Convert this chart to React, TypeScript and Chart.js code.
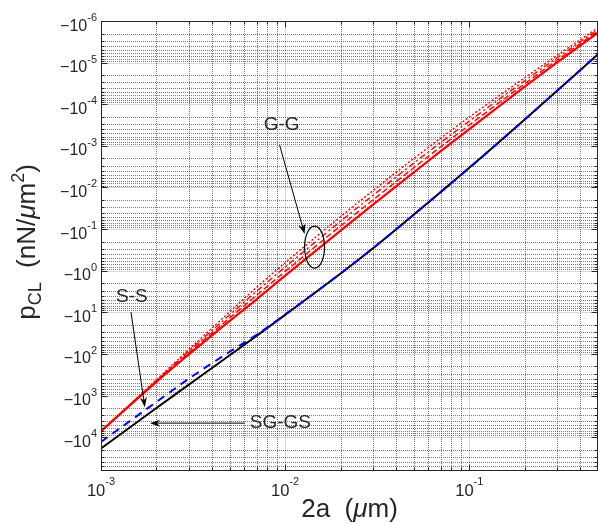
import React, { useEffect, useRef } from "react";
import { Chart, registerables } from "chart.js";

Chart.register(...registerables);

// ---- data (magnitudes of p_CL in nN/um^2; axis labels carry the minus sign) ----
const X_2A = [0.001, 0.002, 0.003, 0.005, 0.007, 0.01, 0.02, 0.03, 0.05, 0.07, 0.1, 0.2, 0.3, 0.5];
const GG_SOLID = [7180, 468, 103, 16.0, 4.87, 1.32, 0.109, 0.0258, 4.33e-3, 1.34e-3, 3.94e-4, 3.79e-5, 9.88e-6, 1.91e-6];
const GG_DASH = [7180, 450, 93.8, 13.6, 3.9, 1.04, 0.0839, 0.0199, 3.35e-3, 1.05e-3, 3.16e-4, 3.21e-5, 8.69e-6, 1.74e-6];
const GG_DASHDOT = [7180, 434, 85.5, 11.5, 3.13, 0.817, 0.0649, 0.0154, 2.59e-3, 8.3e-4, 2.54e-4, 2.72e-5, 7.64e-6, 1.59e-6];
const GG_DOT = [7180, 418, 78.0, 9.73, 2.51, 0.643, 0.0501, 0.0119, 2.0e-3, 6.53e-4, 2.03e-4, 2.31e-5, 6.71e-6, 1.45e-6];
const SS = [1.87e4, 1987, 547, 107.5, 36.7, 11.5, 1.17, 0.288, 0.0448, 0.0128, 3.38e-3, 2.33e-4, 4.73e-5, 6.3e-6];
const SGGS = [1.3e4, 1426, 393, 88.5, 34.8, 11.3, 1.17, 0.288, 0.0448, 0.0128, 3.38e-3, 2.33e-4, 4.73e-5, 6.3e-6];

const X_TICK_EXP = [-3, -2, -1];
const Y_TICK_EXP = [-6, -5, -4, -3, -2, -1, 0, 1, 2, 3, 4];

// annotation anchors in data coordinates [2a, |p|]
const GG_TEXT = [0.00957, 3.16e-4];
const GG_ARROW_FROM = [0.00933, 9.57e-4];
const GG_ARROW_TO = [0.01276, 0.132];
const GG_ELLIPSE = [0.01445, 0.271];
const SS_TEXT = [1.47e-3, 4.31];
const SS_ARROW_FROM = [1.455e-3, 9.9];
const SS_ARROW_TO = [1.73e-3, 1900];
const SGGS_TEXT = [6.42e-3, 4600];
const SGGS_ARROW_FROM = [6.03e-3, 4600];
const SGGS_ARROW_TO = [1.845e-3, 4600];

const FONT = '"Liberation Sans", Arial, Helvetica, sans-serif';
const TXT = "#262626";

type Part = { t: string; size: number; dy?: number; italic?: boolean };

function fontOf(p: Part) {
  return `${p.italic ? "italic " : ""}${p.size}px ${FONT}`;
}

function drawParts(ctx: CanvasRenderingContext2D, parts: Part[], x: number, y: number, align: "left" | "center" | "right") {
  let total = 0;
  const widths = parts.map((p) => {
    ctx.font = fontOf(p);
    const w = ctx.measureText(p.t).width;
    total += w;
    return w;
  });
  let cx = align === "center" ? x - total / 2 : align === "right" ? x - total : x;
  ctx.textAlign = "left";
  ctx.textBaseline = "alphabetic";
  parts.forEach((p, i) => {
    ctx.font = fontOf(p);
    ctx.fillText(p.t, cx, y + (p.dy || 0));
    cx += widths[i];
  });
}

function logTicks(min: number, max: number) {
  const out: { v: number; major: boolean }[] = [];
  const k0 = Math.floor(Math.log10(min));
  const k1 = Math.ceil(Math.log10(max));
  for (let k = k0; k <= k1; k++) {
    for (let m = 1; m <= 9; m++) {
      const v = m * Math.pow(10, k);
      if (v >= min * 0.999999 && v <= max * 1.000001) out.push({ v, major: m === 1 });
    }
  }
  return out;
}

function arrow(ctx: CanvasRenderingContext2D, x1: number, y1: number, x2: number, y2: number) {
  const ang = Math.atan2(y2 - y1, x2 - x1);
  const ux = Math.cos(ang), uy = Math.sin(ang);
  const nx = -uy, ny = ux;
  const L = 10, W = 3.5, N = 7;
  ctx.beginPath();
  ctx.moveTo(x1, y1);
  ctx.lineTo(x2 - ux * N, y2 - uy * N);
  ctx.stroke();
  ctx.beginPath();
  ctx.moveTo(x2, y2);
  ctx.lineTo(x2 - ux * L + nx * W, y2 - uy * L + ny * W);
  ctx.lineTo(x2 - ux * N, y2 - uy * N);
  ctx.lineTo(x2 - ux * L - nx * W, y2 - uy * L - ny * W);
  ctx.closePath();
  ctx.fill();
}

const snap = (p: number) => Math.round(p) + 0.5;

const matlabAxes = {
  id: "matlabAxes",
  beforeDatasetsDraw(chart: any) {
    const { ctx, chartArea: a, scales } = chart;
    const xs = scales.x, ys = scales.y;
    ctx.save();
    ctx.fillStyle = "#ffffff";
    ctx.fillRect(a.left, a.top, a.right - a.left, a.bottom - a.top);
    const xt = logTicks(xs.min, xs.max);
    const yt = logTicks(ys.min, ys.max);
    // minor grid (dotted)
    ctx.lineWidth = 1;
    ctx.strokeStyle = "rgba(38,38,38,0.6)";
    ctx.setLineDash([1, 1]);
    ctx.beginPath();
    xt.filter((t) => !t.major).forEach((t) => {
      const px = snap(xs.getPixelForValue(t.v));
      ctx.moveTo(px, a.top);
      ctx.lineTo(px, a.bottom);
    });
    yt.filter((t) => !t.major).forEach((t) => {
      const py = snap(ys.getPixelForValue(t.v));
      ctx.moveTo(a.left, py);
      ctx.lineTo(a.right, py);
    });
    ctx.stroke();
    // major grid (solid, light)
    ctx.setLineDash([]);
    ctx.strokeStyle = "rgba(38,38,38,0.18)";
    ctx.beginPath();
    xt.filter((t) => t.major).forEach((t) => {
      const px = snap(xs.getPixelForValue(t.v));
      ctx.moveTo(px, a.top);
      ctx.lineTo(px, a.bottom);
    });
    yt.filter((t) => t.major).forEach((t) => {
      const py = snap(ys.getPixelForValue(t.v));
      ctx.moveTo(a.left, py);
      ctx.lineTo(a.right, py);
    });
    ctx.stroke();
    ctx.restore();
  },
  afterDatasetsDraw(chart: any) {
    const { ctx, chartArea: a, scales } = chart;
    const xs = scales.x, ys = scales.y;
    const P = (d: number[]) => [xs.getPixelForValue(d[0]), ys.getPixelForValue(d[1])];
    ctx.save();
    // box
    ctx.strokeStyle = TXT;
    ctx.lineWidth = 1;
    ctx.setLineDash([]);
    const L = Math.round(a.left) + 0.5, R = Math.round(a.right) - 0.5;
    const T = Math.round(a.top) + 0.5, B = Math.round(a.bottom) - 0.5;
    ctx.strokeRect(L, T, R - L, B - T);
    // ticks (inside, all four sides)
    ctx.beginPath();
    logTicks(xs.min, xs.max).forEach((t) => {
      const px = snap(xs.getPixelForValue(t.v));
      const len = t.major ? 6 : 3;
      ctx.moveTo(px, B); ctx.lineTo(px, B - len);
      ctx.moveTo(px, T); ctx.lineTo(px, T + len);
    });
    logTicks(ys.min, ys.max).forEach((t) => {
      const py = snap(ys.getPixelForValue(t.v));
      const len = t.major ? 6 : 3;
      ctx.moveTo(L, py); ctx.lineTo(L + len, py);
      ctx.moveTo(R, py); ctx.lineTo(R - len, py);
    });
    ctx.stroke();
    // tick labels
    ctx.fillStyle = TXT;
    Y_TICK_EXP.forEach((k) => {
      const py = ys.getPixelForValue(Math.pow(10, k));
      drawParts(ctx, [
        { t: "\u221210", size: 16 },
        { t: String(k), size: 11, dy: -9.5 },
      ], a.left - 4, py + 9.5, "right");
    });
    X_TICK_EXP.forEach((k) => {
      const px = xs.getPixelForValue(Math.pow(10, k));
      drawParts(ctx, [
        { t: "10", size: 16.5 },
        { t: String(k), size: 11, dy: -11 },
      ], px, a.bottom + 25, "center");
    });
    // axis titles
    drawParts(ctx, [
      { t: "2a  (", size: 26 },
      { t: "\u03bc", size: 26, italic: true },
      { t: "m)", size: 26 },
    ], (a.left + a.right) / 2, 517, "center");
    ctx.save();
    ctx.translate(35, (a.top + a.bottom) / 2 - 4);
    ctx.rotate(-Math.PI / 2);
    drawParts(ctx, [
      { t: "p", size: 26 },
      { t: "CL", size: 18, dy: 6 },
      { t: "  (nN/", size: 26 },
      { t: "\u03bc", size: 26, italic: true },
      { t: "m", size: 26 },
      { t: "2", size: 18, dy: -11 },
      { t: ")", size: 26 },
    ], 0, 0, "center");
    ctx.restore();
    // annotations
    ctx.strokeStyle = "#000000";
    ctx.lineWidth = 1;
    ctx.font = `19px ${FONT}`;
    ctx.textBaseline = "middle";
    ctx.fillStyle = TXT;
    let p = P(GG_TEXT);
    ctx.textAlign = "center";
    ctx.fillText("G-G", p[0], p[1]);
    p = P(SS_TEXT);
    ctx.fillText("S-S", p[0], p[1]);
    p = P(SGGS_TEXT);
    ctx.textAlign = "left";
    ctx.fillText("SG-GS", p[0], p[1]);
    ctx.fillStyle = "#000000";
    let f = P(GG_ARROW_FROM), t = P(GG_ARROW_TO);
    arrow(ctx, f[0], f[1], t[0], t[1]);
    f = P(SS_ARROW_FROM); t = P(SS_ARROW_TO);
    arrow(ctx, f[0], f[1], t[0], t[1]);
    f = P(SGGS_ARROW_FROM); t = P(SGGS_ARROW_TO);
    arrow(ctx, f[0], f[1], t[0], t[1]);
    const e = P(GG_ELLIPSE);
    ctx.beginPath();
    ctx.lineWidth = 1.2;
    ctx.ellipse(e[0], e[1], 10, 21, 0, 0, Math.PI * 2);
    ctx.stroke();
    ctx.restore();
  },
};

function series(vals: number[]) {
  return X_2A.map((x, i) => ({ x, y: vals[i] }));
}

export default function App() {
  const ref = useRef<HTMLCanvasElement | null>(null);
  useEffect(() => {
    if (!ref.current) return;
    const chart = new Chart(ref.current, {
      type: "line",
      data: {
        datasets: [
          { label: "SG-GS", data: series(SGGS), borderColor: "#0000ff", borderWidth: 2, borderDash: [8, 6], order: 0 },
          { label: "S-S", data: series(SS), borderColor: "#000000", borderWidth: 2, order: 1 },
          { label: "G-G a", data: series(GG_SOLID), borderColor: "#ff0000", borderWidth: 2.2, order: 2 },
          { label: "G-G b", data: series(GG_DASH), borderColor: "#ff0000", borderWidth: 1.4, borderDash: [6, 3], order: 3 },
          { label: "G-G c", data: series(GG_DASHDOT), borderColor: "#ff0000", borderWidth: 1.4, borderDash: [6, 3, 2, 3], order: 4 },
          { label: "G-G d", data: series(GG_DOT), borderColor: "#ff0000", borderWidth: 1.4, borderDash: [2, 2], order: 5 },
        ] as any,
      },
      options: {
        responsive: false,
        animation: false,
        events: [],
        layout: { padding: { top: 21, right: 0, left: 0, bottom: 0 } },
        elements: {
          point: { radius: 0 },
          line: { cubicInterpolationMode: "monotone", fill: false },
        },
        plugins: { legend: { display: false }, tooltip: { enabled: false } },
        scales: {
          x: {
            type: "logarithmic",
            min: 0.001,
            max: 0.5,
            ticks: { display: false },
            grid: { display: false },
            border: { display: false },
            afterFit: (s: any) => { s.height = 53; },
          },
          y: {
            type: "logarithmic",
            reverse: true,
            min: 1e-6,
            max: 6.5e4,
            ticks: { display: false },
            grid: { display: false },
            border: { display: false },
            afterFit: (s: any) => { s.width = 101; },
          },
        },
      } as any,
      plugins: [matlabAxes],
    });
    return () => chart.destroy();
  }, []);
  return (
    <div style={{ position: "absolute", left: 0, top: 0, width: 598, height: 524, background: "#fff" }}>
      <canvas ref={ref} width={598} height={524} style={{ display: "block" }} />
    </div>
  );
}
